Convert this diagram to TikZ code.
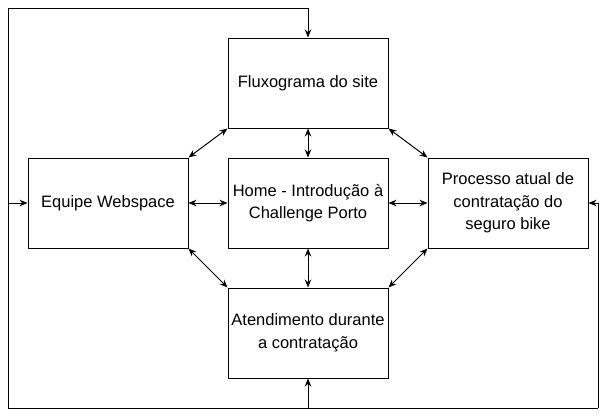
\documentclass[tikz,border=0pt]{standalone}
\usepackage{fontspec}
\setmainfont{Liberation Sans}
\usetikzlibrary{arrows.meta}

\begin{document}
\begin{tikzpicture}
[x=1pt,y=-1pt,line width=1pt,>={Stealth[length=8pt,width=6.5pt]},
box/.style = {draw, rectangle, minimum width=160pt, minimum height=90pt, inner sep=0pt, align=center, font=\fontsize{16.5}{22.5}\selectfont},]

\useasboundingbox (0,0) rectangle (609,418);
\node (flux) at (308,83)[box] {Fluxograma do site};
\node (equipe) at (108,203)[box] {Equipe Webspace};
\node (home) at (308,203)[box] {Home - Introdução à\\Challenge Porto};
\node (proc) at (508,203)[box] {Processo atual de\\contratação do\\seguro bike};
\node (atend) at (308,333)[box] {Atendimento durante\\a contratação};

\coordinate (bm) at (308,408);
\coordinate (bl) at (8,408);
\coordinate (br) at (598,408);
\coordinate (tl) at (8,8);
\coordinate (tm) at (308,8);
\coordinate (ml) at (8,203);
\coordinate (mr) at (598,203);

% inner connectors
\draw [<->](flux.south)--(home.north);
\draw [<->](home.south)--(atend.north);
\draw [<->](equipe.east)--(home.west);
\draw [<->](home.east)--(proc.west);
\draw [<->](equipe.north east)--(flux.south west);
\draw [<->](flux.south east)--(proc.north west);
\draw [<->](equipe.south east)--(atend.north west);
\draw [<->](proc.south west)--(atend.north east);

% outer loop
\draw [->](bm)--(atend.south);
\draw [->](br)--(bl)--(tl)--(tm)--(flux.north);
\draw [->](ml)--(equipe.west);
\draw [->](br)--(mr)--(proc.east);

\end{tikzpicture}
\end{document}
